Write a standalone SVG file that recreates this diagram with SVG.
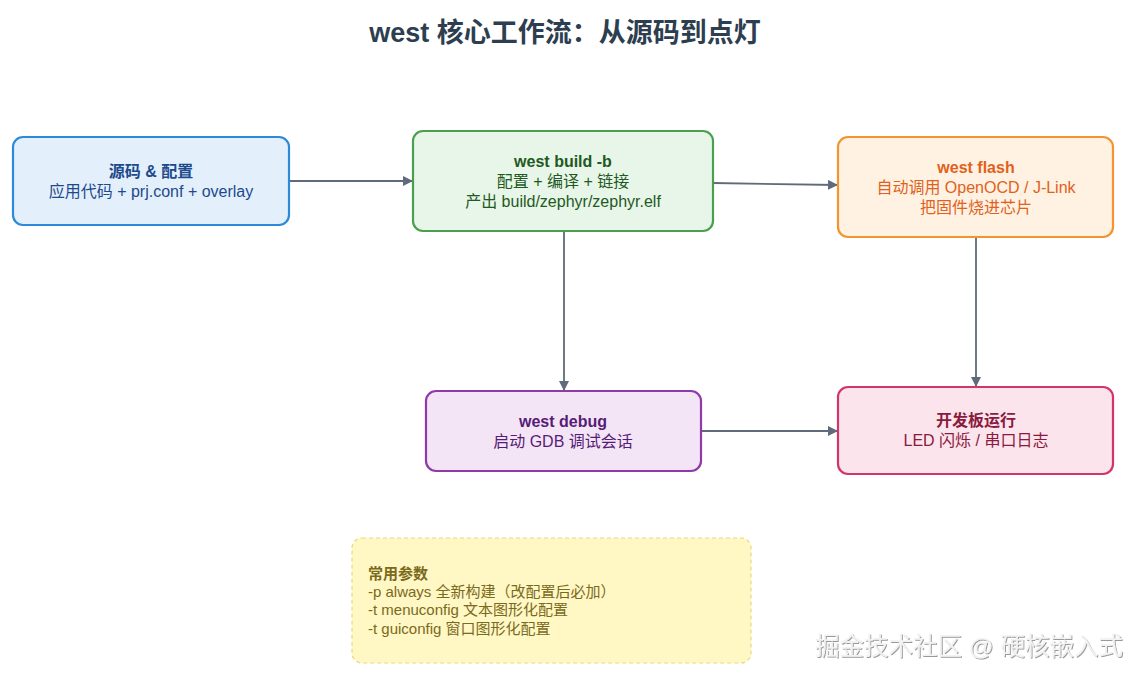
<svg xmlns="http://www.w3.org/2000/svg" width="1145" height="681" viewBox="0 0 1145 681">
<defs>
<marker id="arr" viewBox="0 0 10 10" refX="9" refY="5" markerWidth="10" markerHeight="10" markerUnits="userSpaceOnUse" orient="auto">
<path d="M0,0 L10,5 L0,10 z" fill="#5f6b7a"/>
</marker>
<filter id="sh" x="-5%" y="-20%" width="110%" height="140%">
<feDropShadow dx="1" dy="1" stdDeviation="0.6" flood-color="#555" flood-opacity="0.6"/>
</filter>
</defs>
<style>
text{font-family:"Liberation Sans","Noto Sans CJK SC",sans-serif;font-size:16px;text-anchor:middle}
.b{font-weight:bold}
.box{stroke-width:2.2}
.edge{stroke:#5f6b7a;stroke-width:1.8;fill:none;marker-end:url(#arr)}
.n{text-anchor:start;font-size:15px}
</style>
<rect width="1145" height="681" fill="#ffffff"/>
<text x="565" y="42" class="b" style="font-size:27px" fill="#2c3e50">west 核心工作流：从源码到点灯</text>
<g id="connectors">
<path class="edge" d="M289,181 L412,181"/>
<path class="edge" d="M713,183 L837,185"/>
<path class="edge" d="M564,231 L564,390"/>
<path class="edge" d="M976,237 L976,386"/>
<path class="edge" d="M701,431 L837,431"/>
</g>
<g id="src">
<rect class="box" x="13" y="137" width="276" height="88" rx="10" fill="#e3f0fc" stroke="#2d8ad8"/>
<text x="151" y="177" class="b" fill="#1d4a8c">源码 &amp; 配置</text>
<text x="151" y="197" fill="#1d4a8c">应用代码 + prj.conf + overlay</text>
</g>
<g id="build">
<rect class="box" x="413" y="131" width="300" height="100" rx="10" fill="#e8f5e9" stroke="#4aa04e"/>
<text x="563" y="167" class="b" fill="#1e5a22">west build -b</text>
<text x="563" y="187" fill="#1e5a22">配置 + 编译 + 链接</text>
<text x="563" y="207" fill="#1e5a22">产出 build/zephyr/zephyr.elf</text>
</g>
<g id="flash">
<rect class="box" x="838" y="137" width="275" height="100" rx="10" fill="#fff2e2" stroke="#f29530"/>
<text x="976" y="173" class="b" fill="#e0611c">west flash</text>
<text x="976" y="193" fill="#e0611c">自动调用 OpenOCD / J-Link</text>
<text x="976" y="213" fill="#e0611c">把固件烧进芯片</text>
</g>
<g id="debug">
<rect class="box" x="426" y="391" width="275" height="80" rx="10" fill="#f3e5f5" stroke="#8e3aaa"/>
<text x="563" y="427" class="b" fill="#571c78">west debug</text>
<text x="563" y="447" fill="#571c78">启动 GDB 调试会话</text>
</g>
<g id="board">
<rect class="box" x="838" y="387" width="275" height="87" rx="10" fill="#fce4ec" stroke="#d23569"/>
<text x="976" y="426" class="b" fill="#8a1a40">开发板运行</text>
<text x="976" y="446" fill="#8a1a40">LED 闪烁 / 串口日志</text>
</g>
<g id="note">
<rect x="352" y="538" width="399" height="125" rx="10" fill="#fff7c4" stroke="#ecd97a" stroke-width="1.2" stroke-dasharray="4,3"/>
<text x="368" y="579" class="b n" fill="#7a6a1c">常用参数</text>
<text x="368" y="597" class="n" fill="#7a6a1c">-p always 全新构建（改配置后必加）</text>
<text x="368" y="615" class="n" fill="#7a6a1c">-t menuconfig 文本图形化配置</text>
<text x="368" y="634" class="n" fill="#7a6a1c">-t guiconfig 窗口图形化配置</text>
</g>
<text x="969" y="655" style="font-size:24.5px" fill="#f2f2f2" filter="url(#sh)">掘金技术社区 @ 硬核嵌入式</text>
</svg>
